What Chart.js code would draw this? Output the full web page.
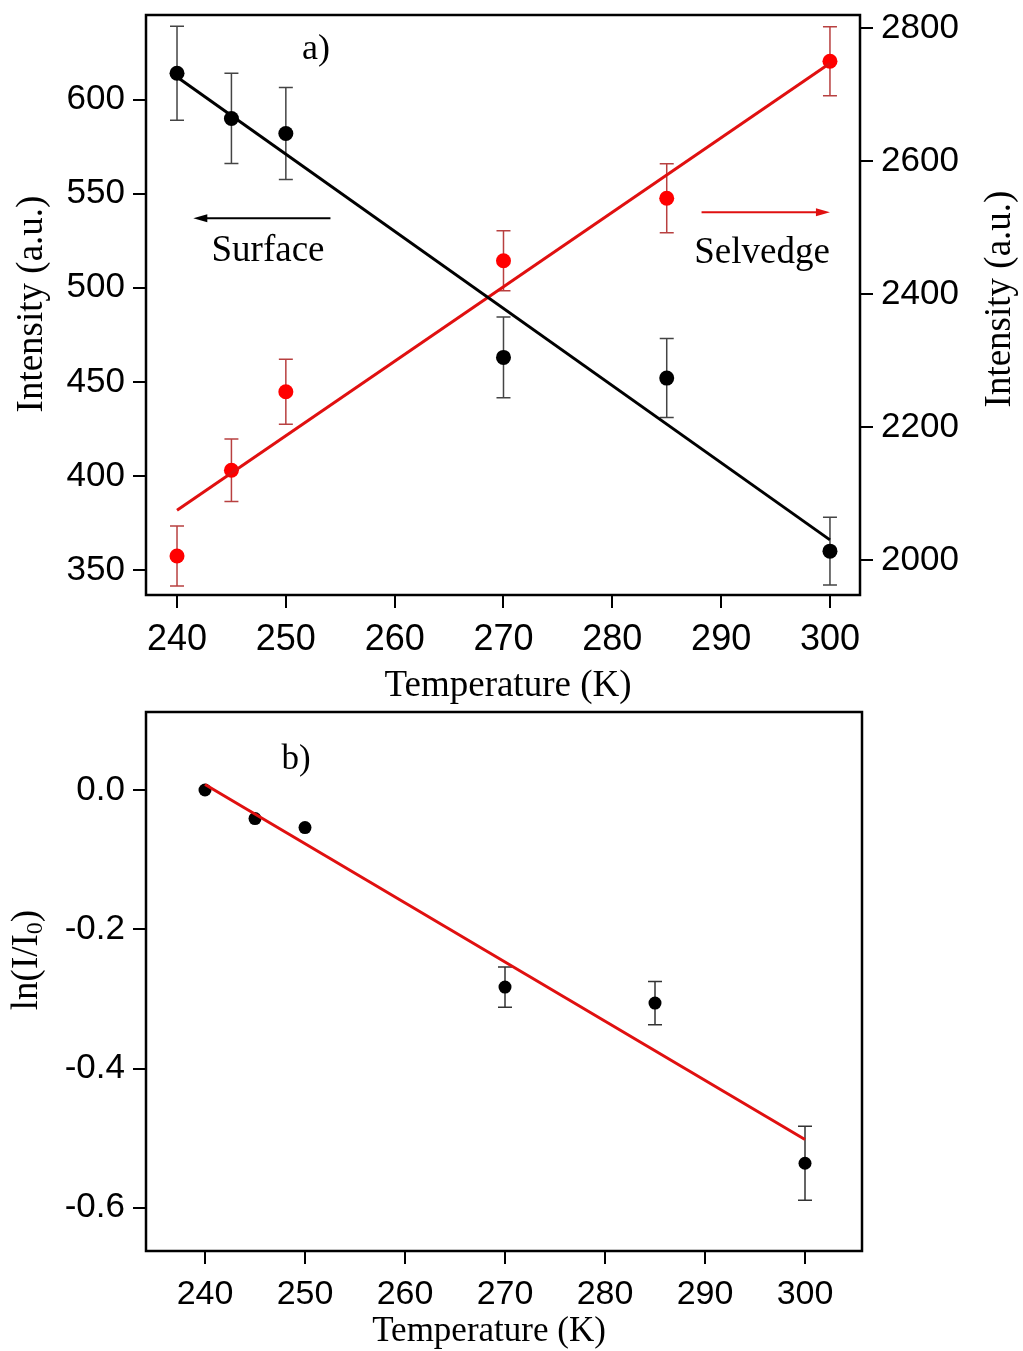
<!DOCTYPE html>
<html>
<head>
<meta charset="utf-8">
<script src="https://cdn.jsdelivr.net/npm/chart.js@4.4.0/dist/chart.umd.min.js"></script>
<style>
  body { margin: 0; background: #fff; }
  .panel { position: absolute; left: 0; }
</style>
</head>
<body>
<div class="panel" style="top:0"><canvas id="chartA" width="1023" height="705"></canvas></div>
<div class="panel" style="top:705px"><canvas id="chartB" width="1023" height="646"></canvas></div>
<script>
// datos
const temperatures = [240, 245, 250, 270, 285, 300];
const surfaceIntensity = [614, 590, 582, 463, 452, 360];
const surfaceError = [25, 24, 24.5, 21.5, 21, 18];
const selvedgeIntensity = [2006, 2135, 2253, 2450, 2544, 2750];
const selvedgeError = [45, 47, 49, 45, 52, 52];

const fitTemperatures = [240, 300];
const surfaceFit = [612, 366];
const selvedgeFit = [2075, 2747];

const lnRatio = [0.0, -0.041, -0.054, -0.283, -0.306, -0.536];
const lnRatioError = [0, 0, 0, 0.029, 0.031, 0.053];
const lnRatioFit = [0.008, -0.502];

const temperatureTicks = [240, 250, 260, 270, 280, 290, 300];
const surfaceTicks = [350, 400, 450, 500, 550, 600];
const selvedgeTicks = [2000, 2200, 2400, 2600, 2800];
const lnTicks = [0, -0.2, -0.4, -0.6];

const SANS = '"Liberation Sans", Arial, sans-serif';
const SERIF = '"Liberation Serif", "Times New Roman", serif';

function puntos(xs, ys) {
    return xs.map((x, i) => ({ x: x, y: ys[i] }));
}

function fijarTicks(valores) {
    return function (scale) {
        scale.ticks = valores.map(v => ({ value: v }));
    };
}

function ejeY(valores, ancho, posicion, decimales) {
    return {
        position: posicion,
        afterBuildTicks: fijarTicks(valores),
        afterFit: s => { s.width = ancho; s.paddingTop = 0; s.paddingBottom = 0; },
        border: { display: false },
        grid: { drawOnChartArea: false, drawTicks: true, tickLength: 13, color: '#000', lineWidth: 2 },
        ticks: {
            color: '#000',
            padding: 8,
            font: { family: SANS, size: 35 },
            callback: v => decimales ? v.toFixed(decimales) : String(v)
        }
    };
}

function ejeX(min, max, alto, tamano) {
    return {
        type: 'linear',
        min: min,
        max: max,
        afterBuildTicks: fijarTicks(temperatureTicks),
        afterFit: s => { s.height = alto; s.paddingLeft = 0; s.paddingRight = 0; },
        border: { display: false },
        grid: { drawOnChartArea: false, drawTicks: true, tickLength: 13, color: '#000', lineWidth: 2 },
        ticks: { color: '#000', padding: 10, font: { family: SANS, size: tamano }, maxRotation: 0 }
    };
}

// barras de error verticales con tope
const barrasError = {
    id: 'barrasError',
    beforeDatasetsDraw(chart) {
        const ctx = chart.ctx;
        chart.data.datasets.forEach((ds, i) => {
            if (!ds.errores) return;
            const meta = chart.getDatasetMeta(i);
            const escalaY = chart.scales[meta.yAxisID];
            ctx.save();
            ctx.strokeStyle = ds.colorError;
            ctx.lineWidth = 1.5;
            meta.data.forEach((p, j) => {
                if (!ds.errores[j]) return;
                const v = ds.data[j].y;
                const arriba = escalaY.getPixelForValue(v + ds.errores[j]);
                const abajo = escalaY.getPixelForValue(v - ds.errores[j]);
                const x = p.x;
                ctx.beginPath();
                ctx.moveTo(x, arriba); ctx.lineTo(x, abajo);
                ctx.moveTo(x - 7, arriba); ctx.lineTo(x + 7, arriba);
                ctx.moveTo(x - 7, abajo); ctx.lineTo(x + 7, abajo);
                ctx.stroke();
            });
            ctx.restore();
        });
    }
};

// marco completo alrededor del area de grafico
const marco = {
    id: 'marco',
    afterDraw(chart) {
        const a = chart.chartArea;
        const ctx = chart.ctx;
        ctx.save();
        ctx.strokeStyle = '#000';
        ctx.lineWidth = 2.5;
        ctx.strokeRect(a.left, a.top, a.right - a.left, a.bottom - a.top);
        ctx.restore();
    }
};

function texto(ctx, t, x, y, tamano, girado) {
    ctx.save();
    ctx.translate(x, y);
    if (girado) ctx.rotate(-Math.PI / 2);
    ctx.font = tamano + 'px ' + SERIF;
    ctx.fillStyle = '#000';
    ctx.textAlign = 'center';
    ctx.textBaseline = 'middle';
    ctx.fillText(t, 0, 0);
    ctx.restore();
}

function flecha(ctx, x1, x2, y, color) {
    const dir = Math.sign(x2 - x1);
    ctx.save();
    ctx.strokeStyle = color;
    ctx.fillStyle = color;
    ctx.lineWidth = 2;
    ctx.beginPath();
    ctx.moveTo(x1, y); ctx.lineTo(x2 - dir * 10, y);
    ctx.stroke();
    ctx.beginPath();
    ctx.moveTo(x2, y);
    ctx.lineTo(x2 - dir * 14, y - 4);
    ctx.lineTo(x2 - dir * 14, y + 4);
    ctx.closePath();
    ctx.fill();
    ctx.restore();
}

const anotacionesA = {
    id: 'anotacionesA',
    afterDraw(chart) {
        const ctx = chart.ctx;
        const sx = chart.scales.x, sl = chart.scales.yL, sr = chart.scales.yR;
        flecha(ctx, sx.getPixelForValue(254.1), sx.getPixelForValue(241.5), sl.getPixelForValue(537), '#000');
        flecha(ctx, sx.getPixelForValue(288.2), sx.getPixelForValue(300), sr.getPixelForValue(2523), '#e01010');
        texto(ctx, 'a)', 316, 50, 36);
        texto(ctx, 'Surface', 268, 251, 37);
        texto(ctx, 'Selvedge', 762, 253, 37);
        texto(ctx, 'Temperature (K)', 508, 686, 37);
        texto(ctx, 'Intensity (a.u.)', 32, 304, 37, true);
        texto(ctx, 'Intensity (a.u.)', 1000, 299, 37, true);
    }
};

const anotacionesB = {
    id: 'anotacionesB',
    afterDraw(chart) {
        const ctx = chart.ctx;
        texto(ctx, 'b)', 296, 55, 35);
        texto(ctx, 'Temperature (K)', 489, 627, 35);
        // ln(I/I0) con subindice
        ctx.save();
        ctx.translate(27, 255);
        ctx.rotate(-Math.PI / 2);
        ctx.fillStyle = '#000';
        ctx.textBaseline = 'middle';
        const f1 = '37px ' + SERIF, f2 = '24px ' + SERIF;
        ctx.font = f1; const w1 = ctx.measureText('ln(I/I').width; const w3 = ctx.measureText(')').width;
        ctx.font = f2; const w2 = ctx.measureText('0').width;
        let x = -(w1 + w2 + w3) / 2;
        ctx.font = f1; ctx.fillText('ln(I/I', x, 0); x += w1;
        ctx.font = f2; ctx.fillText('0', x, 9); x += w2;
        ctx.font = f1; ctx.fillText(')', x, 0);
        ctx.restore();
    }
};

const comunes = {
    responsive: false,
    animation: false,
    plugins: { legend: { display: false }, tooltip: { enabled: false } }
};

new Chart(document.getElementById('chartA'), {
    data: {
        datasets: [
            { type: 'line', data: puntos(fitTemperatures, surfaceFit), yAxisID: 'yL',
              borderColor: '#000', borderWidth: 3, pointRadius: 0 },
            { type: 'line', data: puntos(fitTemperatures, selvedgeFit), yAxisID: 'yR',
              borderColor: '#e01010', borderWidth: 3, pointRadius: 0 },
            { type: 'scatter', data: puntos(temperatures, surfaceIntensity), yAxisID: 'yL',
              errores: surfaceError, colorError: '#444',
              pointRadius: 7.5, backgroundColor: '#000', borderWidth: 0 },
            { type: 'scatter', data: puntos(temperatures, selvedgeIntensity), yAxisID: 'yR',
              errores: selvedgeError, colorError: '#b84040',
              pointRadius: 7.5, backgroundColor: '#ff0000', borderWidth: 0 }
        ]
    },
    options: Object.assign({}, comunes, {
        layout: { padding: { top: 15, left: 0, right: 0, bottom: 0 } },
        scales: {
            x: ejeX(237.15, 302.76, 110, 36),
            yL: Object.assign(ejeY(surfaceTicks, 146, 'left', 0), { min: 336.7, max: 645 }),
            yR: Object.assign(ejeY(selvedgeTicks, 163, 'right', 0), { min: 1947.4, max: 2819.5 })
        }
    }),
    plugins: [barrasError, marco, anotacionesA]
});

new Chart(document.getElementById('chartB'), {
    data: {
        datasets: [
            { type: 'line', data: puntos(fitTemperatures, lnRatioFit),
              borderColor: '#e01010', borderWidth: 3, pointRadius: 0 },
            { type: 'scatter', data: puntos(temperatures, lnRatio),
              errores: lnRatioError, colorError: '#333',
              pointRadius: 6.5, backgroundColor: '#000', borderWidth: 0 }
        ]
    },
    options: Object.assign({}, comunes, {
        layout: { padding: { top: 7, left: 0, right: 161, bottom: 0 } },
        scales: {
            x: ejeX(234.1, 305.7, 100, 34),
            y: Object.assign(ejeY(lnTicks, 146, 'left', 1), { min: -0.662, max: 0.112 })
        }
    }),
    plugins: [barrasError, marco, anotacionesB]
});
</script>
</body>
</html>
